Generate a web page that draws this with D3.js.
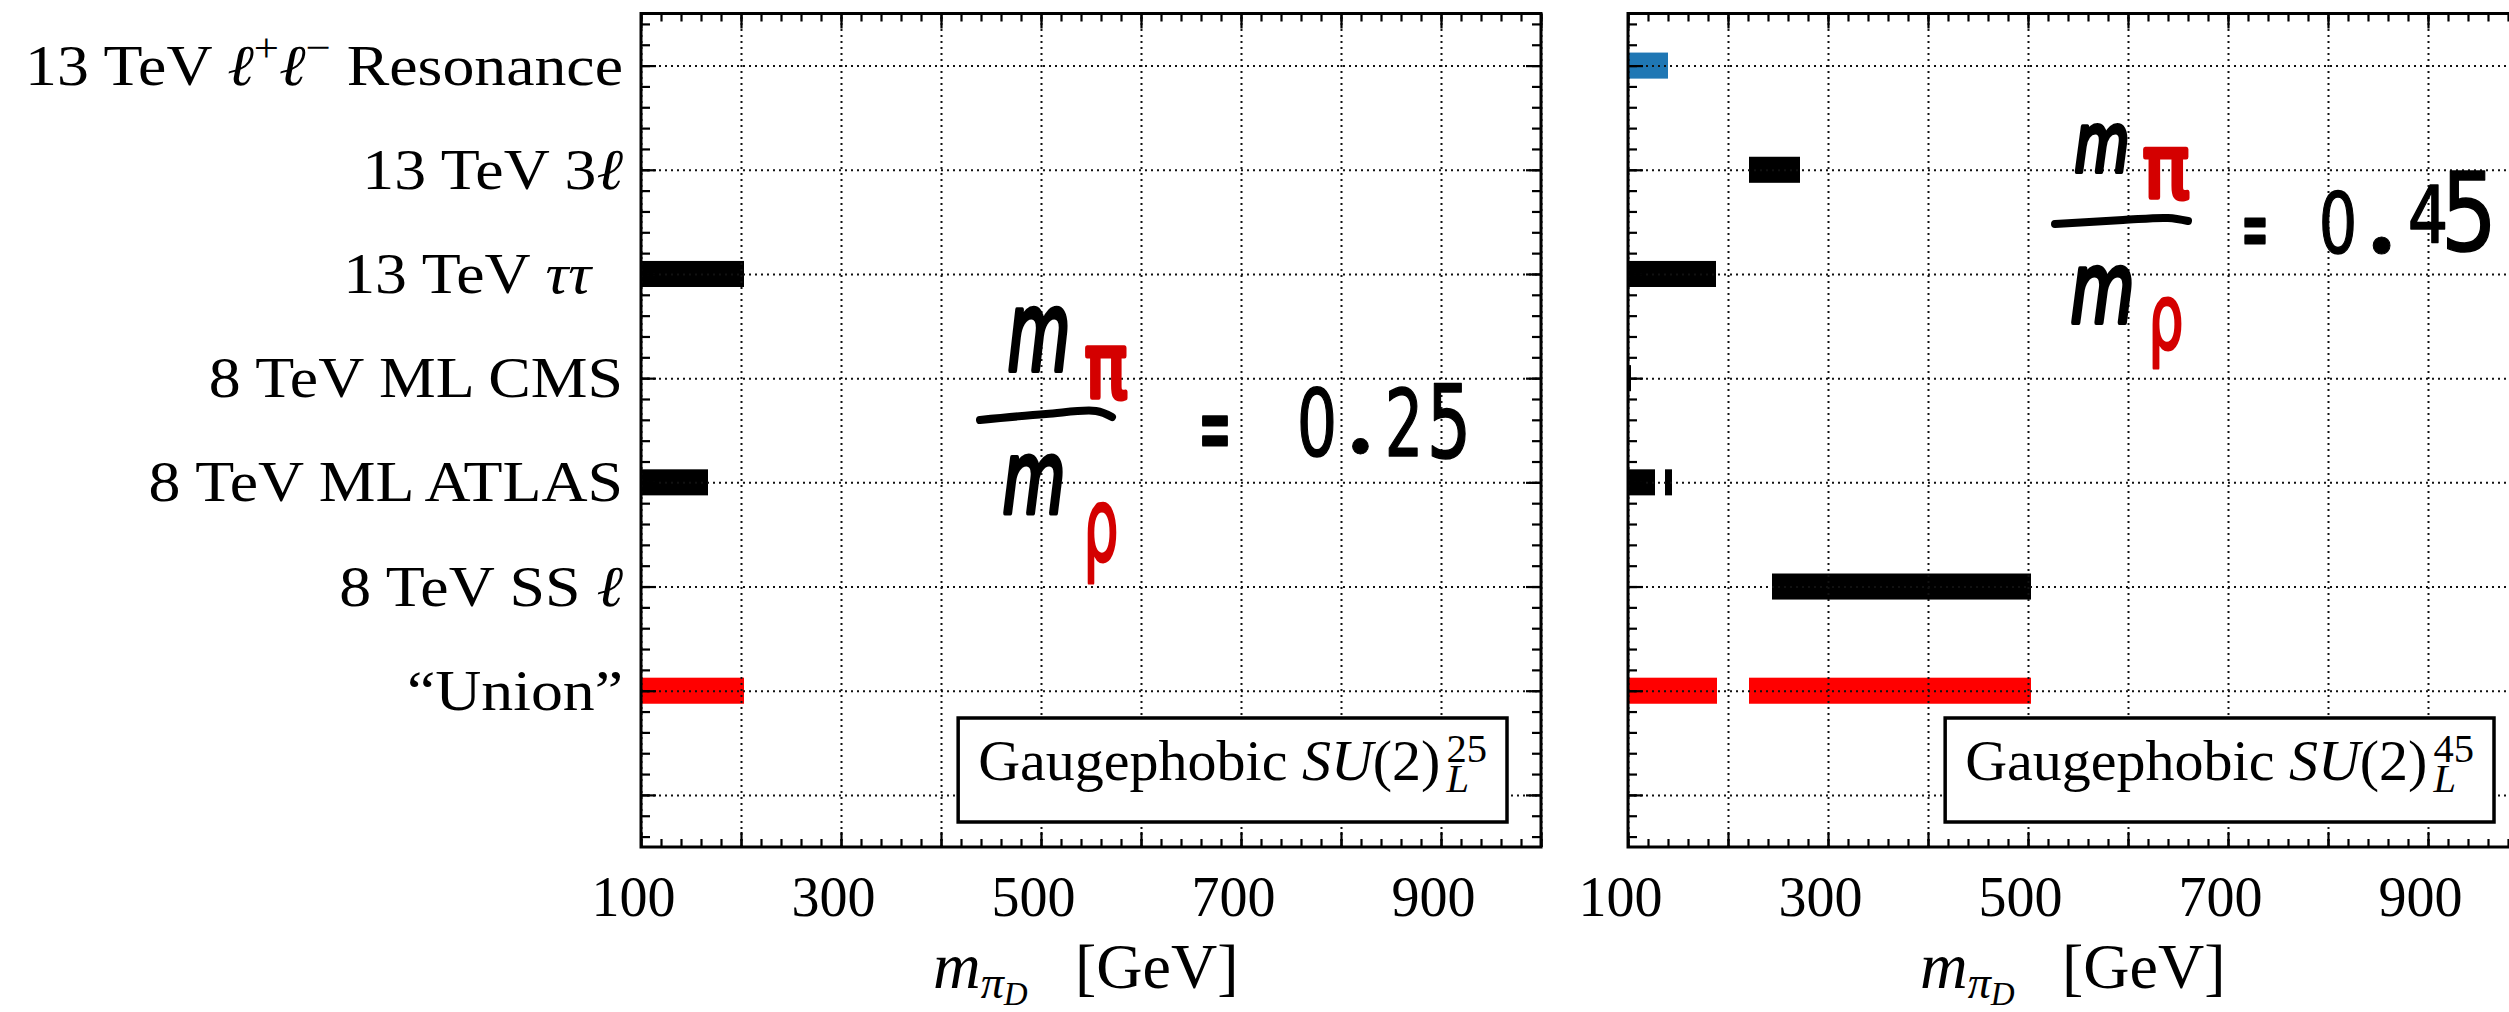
<!DOCTYPE html>
<html>
<head>
<meta charset="utf-8">
<script src="https://cdn.jsdelivr.net/npm/d3@7"></script>
<style>
  body { margin: 0; background: #fff; }
  text { font-family: "Liberation Serif", "DejaVu Serif", serif; fill: #000; }
  .hand { font-family: "DejaVu Sans", sans-serif;
          stroke-linejoin: round; stroke-linecap: round; }
</style>
</head>
<body>
<svg id="chart"></svg>
<script>
// search channels, top to bottom (label pieces: [text, style])
var channelLabels = [
  [["13 TeV ", "r"], ["ℓ", "i"], ["+", "sup"], ["ℓ", "i"], ["−", "sup"], [" Resonance", "r"]],
  [["13 TeV 3", "r"], ["ℓ", "i"]],
  [["13 TeV ", "r"], ["ττ", "i"], ["\u00a0\u00a0", "r"]],
  [["8 TeV ML CMS", "r"]],
  [["8 TeV ML ATLAS", "r"]],
  [["8 TeV SS ", "r"], ["ℓ", "i"]],
  [["“Union”", "r"]]
];
var barColors = ["#1f77b4", "black", "black", "black", "black", "black", "red"];

// excluded m_piD ranges [GeV], one list per channel
var excl25 = [[], [], [[100, 203]], [], [[100, 167]], [], [[100, 203]]];
var excl45 = [[[100, 140]], [[221, 272]], [[100, 188]], [[100, 103]],
              [[100, 127], [137, 144]], [[244, 503]], [[100, 189], [221, 503]]];

var ratioLabels = ["25", "45"];
var xTicks = [100, 300, 500, 700, 900];

// layout
var W = 2509, H = 1012;
var plotTop = 13.5, plotBottom = 847, panelW = 900;
var panelX = [641, 1628];

var svg = d3.select("#chart").attr("width", W).attr("height", H);
svg.append("rect").attr("width", W).attr("height", H).attr("fill", "white");

var y = d3.scaleLinear().domain([-0.5, 7.5]).range([plotTop, plotBottom]);
var yMajor = d3.range(0, 8);
var yMinor = d3.range(-2, 38).map(k => k / 5);
var xMajor = d3.range(100, 1001, 100);
var xMinor = d3.range(100, 1001, 20);
var bh = y(0.125) - y(-0.125);

var styles = {
  r:    {s: 0, z: 1, it: false},
  i:    {s: 0, z: 1, it: true},
  sup:  {s: -0.4, z: 0.7, it: false},
  subi: {s: 0.15, z: 0.7, it: true},
  subsubi: {s: 0.26, z: 0.5, it: true}
};
function rich(t, pieces, fs) {
  var shift = 0;
  pieces.forEach(function(p) {
    var st = styles[p[1]];
    var s = st.s * fs;
    t.append("tspan").text(p[0])
      .attr("dy", s - shift)
      .attr("font-size", st.z * fs)
      .attr("font-style", st.it ? "italic" : null);
    shift = s;
  });
  return shift;
}

// handwritten notes, panel-local [glyph, colour, dx, baseline, size, width, stroke]
var notes = [
  [["m", "black", 364, 370, 110, 68, 5], ["π", "#d40000", 441, 398, 90, 48, 5],
   ["m", "black", 359, 513, 102, 68, 5], ["ρ", "#d40000", 441, 561, 103, 38, 3],
   ["=", "black", 556, 462, 100, 36, 3],
   ["0", "black", 655, 456, 92, 42, 1.5], ["•", "black", 703, 466, 54, 0, 1],
   ["2", "black", 743, 456, 92, 40, 1.5], ["5", "black", 785, 458, 102, 46, 1.5]],
  [["m", "black", 444, 172, 82, 60, 5], ["π", "#d40000", 512, 198, 88, 52, 5],
   ["m", "black", 440, 322, 98, 69, 5], ["ρ", "#d40000", 519, 349, 90, 38, 3],
   ["=", "black", 612, 258, 85, 30, 3],
   ["0", "black", 690, 253, 84, 40, 1.5], ["•", "black", 736, 267, 58, 0, 1],
   ["4", "black", 779, 243, 78, 42, 1.5], ["5", "black", 812, 250, 108, 58, 1.5]]
];
var fracBars = [
  [[339, 420], [405, 414], [455, 411], [471, 417]],
  [[427, 224], [495, 220], [540, 218], [560, 221]]
];

[excl25, excl45].forEach(function(ranges, pi) {
  var x0 = panelX[pi];
  var x = d3.scaleLinear().domain([100, 1000]).range([x0, x0 + panelW]);
  var g = svg.append("g");

  var segs = ranges.flatMap((rs, i) => rs.map(r => ({i: i, a: r[0], b: r[1]})));
  g.selectAll("rect.bar").data(segs).join("rect")
    .attr("class", "bar")
    .attr("x", d => x(d.a))
    .attr("width", d => x(d.b) - x(d.a))
    .attr("y", d => y(d.i) - bh / 2)
    .attr("height", bh)
    .attr("fill", d => barColors[d.i]);

  // dotted grid
  var grid = g.append("g");
  grid.append("g").attr("transform", "translate(0," + plotBottom + ")")
    .call(d3.axisBottom(x).tickValues(xMajor).tickSize(-(plotBottom - plotTop)).tickFormat(""));
  grid.append("g").attr("transform", "translate(" + x0 + ",0)")
    .call(d3.axisLeft(y).tickValues(yMajor).tickSize(-panelW).tickFormat(""));
  grid.selectAll(".domain").remove();
  grid.selectAll("line").attr("stroke", "#111").attr("stroke-width", 2)
    .attr("stroke-dasharray", "2,4");

  // legend box (lower right)
  var fs = 58;
  var lg = g.append("g");
  var box = lg.append("rect");
  var main = lg.append("text").attr("y", 780);
  rich(main, [["Gaugephobic ", "r"], ["SU", "i"], ["(2)", "r"]], fs);
  var mainW = main.node().getComputedTextLength();
  var sup = lg.append("text").attr("y", 762).attr("font-size", 0.7 * fs).text(ratioLabels[pi]);
  var sub = lg.append("text").attr("y", 792).attr("font-size", 0.7 * fs)
    .attr("font-style", "italic").text("L");
  var supW = Math.max(sup.node().getComputedTextLength(), sub.node().getComputedTextLength());
  var boxR = x0 + panelW - 34;
  var tx = boxR - 20 - supW - 6 - mainW;
  main.attr("x", tx);
  sup.attr("x", tx + mainW + 6);
  sub.attr("x", tx + mainW + 6);
  box.attr("x", tx - 20).attr("y", 718).attr("width", boxR - tx + 20).attr("height", 104)
    .attr("fill", "white").attr("stroke", "black").attr("stroke-width", 3.5);

  // ticks, pointing inward on all four sides
  function ticks(axis, vals, size, tr) {
    g.append("g").attr("transform", tr)
      .call(axis.tickValues(vals).tickSize(-size).tickSizeOuter(0).tickFormat(""))
      .call(s => s.select(".domain").remove())
      .selectAll("line").attr("stroke", "black").attr("stroke-width", 2.2);
  }
  var tb = "translate(0," + plotBottom + ")", tt = "translate(0," + plotTop + ")";
  var tl = "translate(" + x0 + ",0)", tr = "translate(" + (x0 + panelW) + ",0)";
  ticks(d3.axisBottom(x), xMinor, 8, tb);
  ticks(d3.axisBottom(x), xMajor, 15, tb);
  ticks(d3.axisTop(x), xMinor, 8, tt);
  ticks(d3.axisTop(x), xMajor, 15, tt);
  ticks(d3.axisLeft(y), yMinor, 9, tl);
  ticks(d3.axisLeft(y), yMajor, 15, tl);
  ticks(d3.axisRight(y), yMinor, 9, tr);
  ticks(d3.axisRight(y), yMajor, 15, tr);

  g.append("rect").attr("x", x0).attr("y", plotTop)
    .attr("width", panelW).attr("height", plotBottom - plotTop)
    .attr("fill", "none").attr("stroke", "black").attr("stroke-width", 3);

  // tick labels
  g.append("g").attr("transform", tb)
    .call(d3.axisBottom(x).tickValues(xTicks).tickSize(0))
    .call(s => s.select(".domain").remove())
    .attr("font-family", null).attr("font-size", null)
    .selectAll("text").attr("y", 69).attr("dy", null).attr("dx", -8)
    .attr("font-size", 56).attr("fill", "black");

  // x label: m_{pi_D} [GeV]
  var xl = g.append("text").attr("x", x0 + 292).attr("y", 988);
  var last = rich(xl, [["m", "i"], ["π", "subi"], ["D", "subsubi"]], 66);
  xl.append("tspan").attr("x", x0 + 434).attr("dy", -last)
    .attr("font-size", 64).text("[GeV]");

  // channel labels on the shared y axis
  if (pi === 0) {
    channelLabels.forEach(function(lab, i) {
      var t = svg.append("text")
        .attr("transform", "translate(" + (x0 - 18) + "," + (y(i) + 19) + ") scale(1.1,1)")
        .attr("text-anchor", "end");
      rich(t, lab, 58);
    });
  }

  // handwritten mass ratio
  var hw = g.append("g");
  hw.append("path")
    .attr("d", d3.line().curve(d3.curveCatmullRom)(fracBars[pi].map(p => [x0 + p[0], p[1]])))
    .attr("fill", "none").attr("stroke", "black").attr("stroke-width", 8)
    .attr("stroke-linecap", "round");
  notes[pi].forEach(function(n) {
    var w = n[6];
    var t = hw.append("text").attr("class", "hand")
      .attr("x", x0 + n[2] + w / 2).attr("y", n[3])
      .attr("font-size", n[4])
      .attr("font-style", n[0] === "m" ? "oblique" : null)
      .style("fill", n[1]).attr("stroke", n[1]).attr("stroke-width", w)
      .text(n[0]);
    if (n[5]) t.attr("textLength", n[5] - w).attr("lengthAdjust", "spacingAndGlyphs");
  });
});
</script>
</body>
</html>
